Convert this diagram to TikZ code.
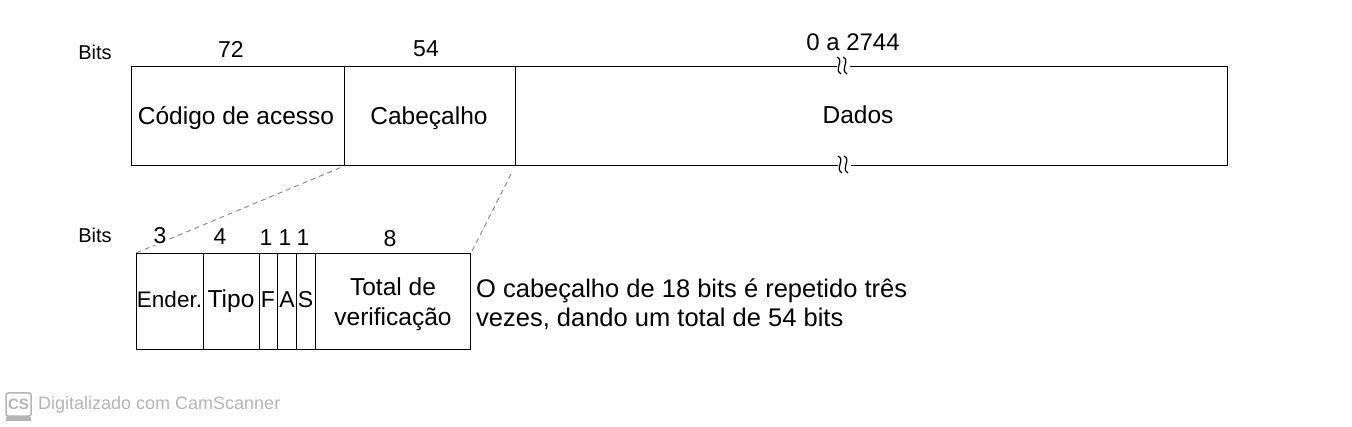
\documentclass[tikz,border=0pt]{standalone}
\usepackage{fontspec}
\setmainfont{Liberation Sans}
\usetikzlibrary{backgrounds}
\definecolor{zoomgray}{HTML}{8C8C8C}
\definecolor{markgray}{HTML}{B4B4B4}
\begin{document}
\begin{tikzpicture}[x=1pt,y=-1pt,
  frame/.style={draw, line width=1.1pt, inner sep=0pt, minimum height=99pt, anchor=north west},
  cell/.style={draw, line width=1.1pt, inner sep=0pt, minimum height=96pt, anchor=north west},
  fieldtxt/.style={font=\fontsize{24.5}{28}\selectfont, inner sep=0pt, anchor=base},
  celltxt/.style={font=\fontsize{24.5}{28}\selectfont, inner sep=0pt, anchor=base},
  numlbl/.style={font=\fontsize{23}{26}\selectfont, inner sep=1pt, fill=white, anchor=base},
  bitslbl/.style={font=\fontsize{20}{23}\selectfont, inner sep=0pt, anchor=base},
  desctxt/.style={font=\fontsize{25.5}{30}\selectfont, inner sep=0pt, anchor=base west},
  zoomline/.style={draw=zoomgray, line width=1pt, dash pattern=on 5pt off 4pt},
  squiggle/.style={line width=1.2pt},
  wmark/.style={font=\fontsize{18}{21}\selectfont, text=markgray, inner sep=0pt}]
\useasboundingbox (0,0) rectangle (1352,427);

% upper frame
\node[frame, minimum width=213pt] (acc) at (131,66) {};
\node[frame, minimum width=171pt] (cab) at (344,66) {};
\node[frame, minimum width=712pt] (dados) at (515,66) {};
\node[fieldtxt] (tacc) at (236,125) {Código de acesso};
\node[fieldtxt] (tcab) at (429,125) {Cabeçalho};
\node[fieldtxt] (tdados) at (858,124) {Dados};

% break marks
\fill[white] (837,60) rectangle (850,72);
\fill[white] (838,159) rectangle (851,171);
\draw[squiggle] (837,57) .. controls (845,61) and (833,69) .. (841,74);
\draw[squiggle] (843,57) .. controls (851,61) and (839,69) .. (847,74);
\draw[squiggle] (838,156) .. controls (846,160) and (834,168) .. (842,173);
\draw[squiggle] (844,156) .. controls (852,160) and (840,168) .. (848,173);

% upper labels
\node[bitslbl] (bits1) at (95,60) {Bits};
\node[numlbl] (n72) at (231,58) {72};
\node[numlbl] (n54) at (426,57) {54};
\node[numlbl, font=\fontsize{24}{27}\selectfont] (n2744) at (853,51) {0 a 2744};

% lower frame
\node[cell, minimum width=67pt] (ender) at (136,253) {};
\node[cell, minimum width=56pt] (tipo) at (203,253) {};
\node[cell, minimum width=18pt] (f) at (259,253) {};
\node[cell, minimum width=19pt] (a) at (277,253) {};
\node[cell, minimum width=19pt] (s) at (296,253) {};
\node[cell, minimum width=155pt] (total) at (315,253) {};
\node[celltxt, font=\fontsize{22.5}{26}\selectfont] (tender) at (169.5,308) {Ender.};
\node[celltxt] (ttipo) at (231,308) {Tipo};
\node[celltxt, font=\fontsize{23}{26}\selectfont] (tf) at (268,308) {F};
\node[celltxt, font=\fontsize{23}{26}\selectfont] (ta) at (287,308) {A};
\node[celltxt, font=\fontsize{23}{26}\selectfont] (ts) at (305.5,308) {S};
\node[celltxt] (ttotal1) at (393,296) {Total de};
\node[celltxt] (ttotal2) at (393,326) {verificação};

% lower labels
\node[bitslbl] (bits2) at (95,243) {Bits};
\node[numlbl] (n3) at (160,244) {3};
\node[numlbl] (n4) at (220,245) {4};
\node[numlbl] (n1a) at (266,246) {1};
\node[numlbl] (n1b) at (285,246) {1};
\node[numlbl] (n1c) at (303,246) {1};
\node[numlbl] (n8) at (390,247) {8};

% description
\node[desctxt] (desc1) at (476,298) {O cabeçalho de 18 bits é repetido três};
\node[desctxt] (desc2) at (476,327) {vezes, dando um total de 54 bits};

% zoom lines
\begin{scope}[on background layer]
\draw[zoomline, shorten <=4pt] (cab.south west) -- (ender.north west);
\draw[zoomline, shorten <=9pt] (dados.south west) -- (total.north east);
\end{scope}

% watermark
\node[draw=markgray, fill=white, line width=1.5pt, rounded corners=2pt, minimum width=25pt, minimum height=23pt, inner sep=0pt, font=\bfseries\fontsize{15}{18}\selectfont, text=markgray] (cslogo) at (18.5,404.5) {CS};
\fill[markgray] (6,417) rectangle (31,421);
\node[wmark, anchor=west] (wtext) at (38,405) {Digitalizado com CamScanner};
\end{tikzpicture}
\end{document}
